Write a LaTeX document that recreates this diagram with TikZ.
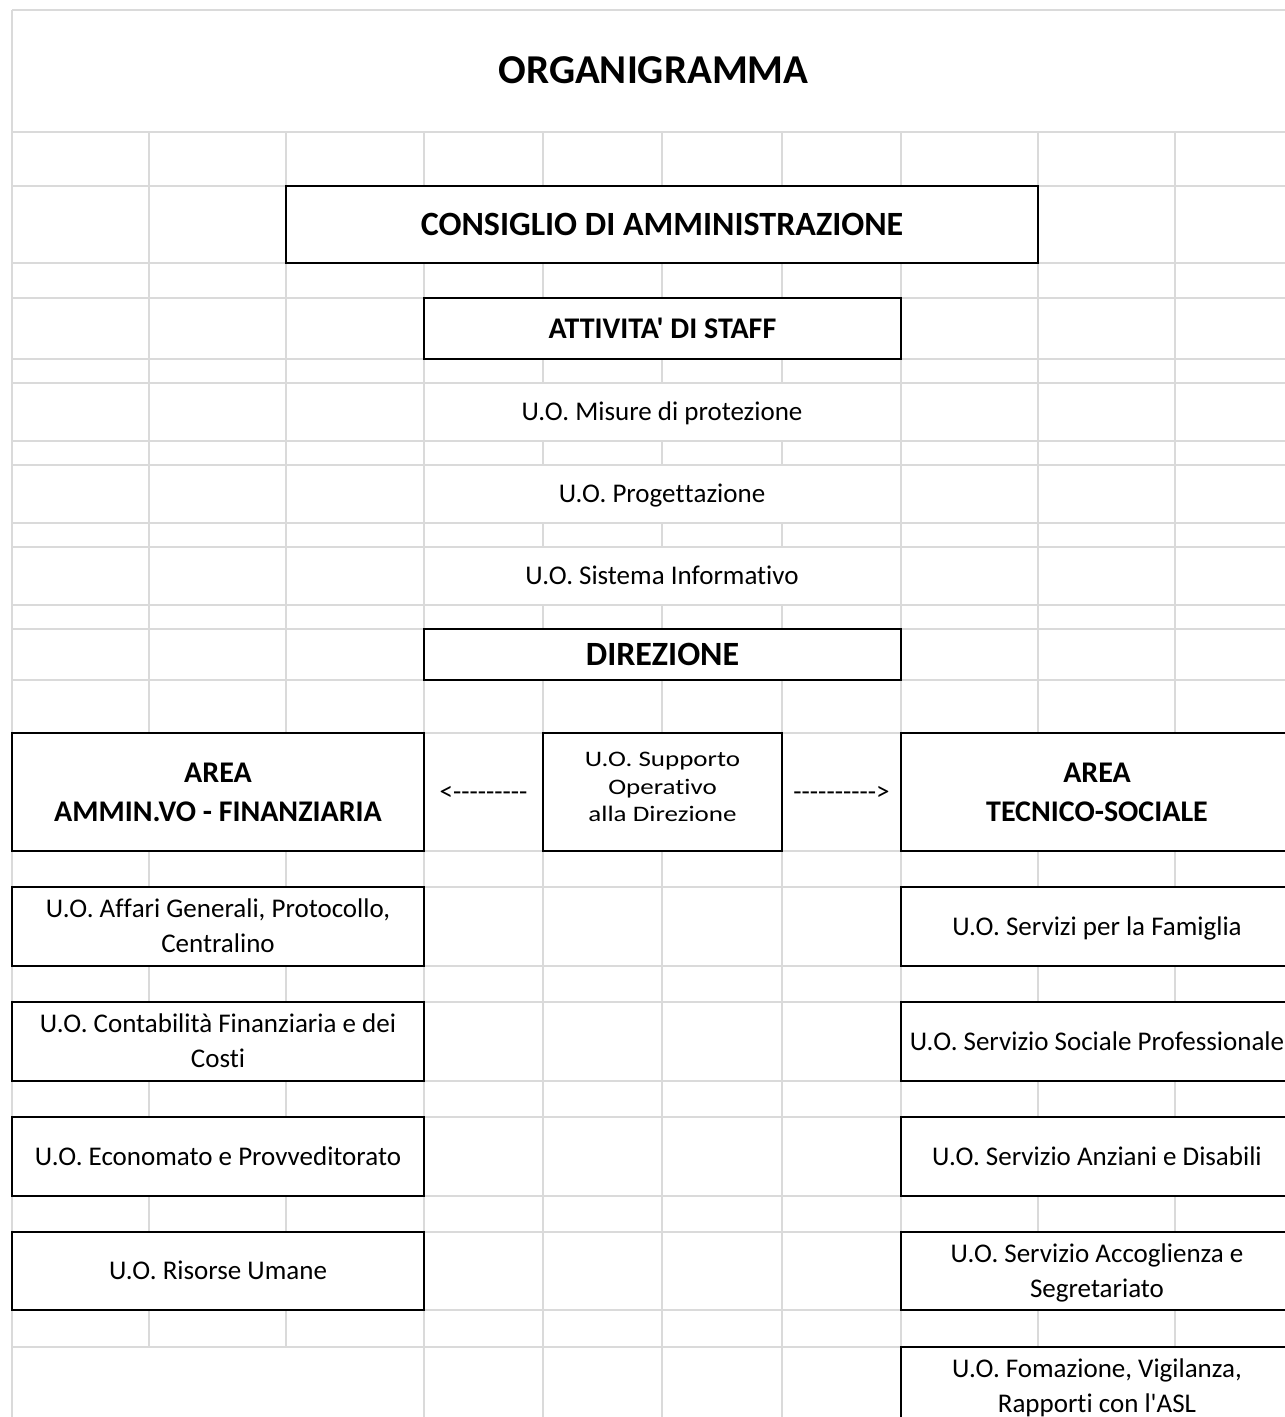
\documentclass[tikz,border=0pt]{standalone}
\usepackage{fontspec}
\setmainfont{Carlito}[Ligatures={TeXOff,CommonOff,ContextualOff}]
\usepackage{graphicx}
\definecolor{gridc}{RGB}{218,218,218}
\tikzset{
  gridline/.style={draw=gridc, line width=1.4pt},
  box/.style={rectangle, draw=black, line width=2pt, fill=white, inner sep=0pt, outer sep=0pt},
  txt/.style={inner sep=0pt, text height=17.1pt, text depth=0pt, font=\fontsize{27}{33}\selectfont},
  btxt/.style={inner sep=0pt, text height=19pt, text depth=0pt, font=\fontsize{30}{36}\selectfont\bfseries},
  bigtxt/.style={inner sep=0pt, text height=21.5pt, text depth=0pt, font=\fontsize{34}{41}\selectfont\bfseries},
  ttl/.style={inner sep=0pt, text height=25.9pt, text depth=0pt, font=\fontsize{41}{49}\selectfont\bfseries},
  suptxt/.style={inner sep=0pt, text height=14pt, text depth=0pt, font=\fontsize{27}{33}\selectfont},
}
\newcommand{\sq}[1]{\scalebox{1}[0.82]{#1}}
\newcommand{\nl}{\kern0pt }
\begin{document}
\begin{tikzpicture}[x=1pt,y=-1pt]
\useasboundingbox (0,0) rectangle (1285,1417);
\clip (0,0) rectangle (1285,1417);
% grid
\foreach \y in {10,132,186,263,298,359,383,441,465,523,547,605,629,680,733,851,887,966,1002,1081,1117,1196,1232,1310,1347}
  \draw[gridline] (12,\y) -- (1300,\y);
\draw[gridline] (12,10) -- (12,1420);
\foreach \x in {149,286} \draw[gridline] (\x,132) -- (\x,1347);
\foreach \x in {424,901,1038,1175} \draw[gridline] (\x,132) -- (\x,1420);
\foreach \x in {543,662,782} {
  \draw[gridline] (\x,132) -- (\x,383);
  \draw[gridline] (\x,441) -- (\x,465);
  \draw[gridline] (\x,523) -- (\x,547);
  \draw[gridline] (\x,605) -- (\x,1420);
}
% title
\node[ttl] (title) at (653.5,71) {ORGANIGRAMMA};
% top boxes
\node[box, bigtxt, minimum width=752pt, minimum height=77pt] (cda) at (662,224.5) {CONSIGLIO DI AMMINISTRAZIONE};
\node[box, btxt, minimum width=477pt, minimum height=61pt] (staff) at (662.5,328.5) {ATTIVITA' DI STAFF};
\node[txt] (misure) at (662,412) {U.O. Misure di protezione};
\node[txt] (prog) at (662,494) {U.O. Proget\nl t\nl azione};
\node[txt] (sist) at (662,576) {U.O. Sistema Informat\nl ivo};
\node[box, bigtxt, minimum width=477pt, minimum height=51pt] (dir) at (662.5,654.5) {DIREZIONE};
% area row
\node[box, minimum width=412pt, minimum height=118pt] (areaA) at (218,792) {};
\node[btxt] (areaA1) at (218,773) {AREA};
\node[btxt] (areaA2) at (218,812) {AMMIN.VO - FINANZIARIA};
\node[txt] (larr) at (483.5,792) {<---------};
\node[box, minimum width=239pt, minimum height=118pt] (supp) at (662.5,792) {};
\node[suptxt] (supp1) at (662.5,759.5) {\sq{U.O. Supporto}};
\node[suptxt] (supp2) at (662.5,787) {\sq{Operat\nl ivo}};
\node[suptxt] (supp3) at (662.5,814) {\sq{alla Direzione}};
\node[txt] (rarr) at (841.5,792) {---------->};
\node[box, minimum width=392pt, minimum height=118pt] (areaT) at (1097,792) {};
\node[btxt] (areaT1) at (1097,773) {AREA};
\node[btxt] (areaT2) at (1097,812) {TECNICO-SOCIALE};
% left column
\node[box, minimum width=412pt, minimum height=79pt] (la1) at (218,926.5) {};
\node[txt] (la1a) at (218,909) {U.O. Af\nl f\nl ari Generali, Protocollo,};
\node[txt] (la1b) at (218,944) {Centralino};
\node[box, minimum width=412pt, minimum height=79pt] (la2) at (218,1041.5) {};
\node[txt] (la2a) at (218,1024) {U.O. Contabilità Finanziaria e dei};
\node[txt] (la2b) at (218,1059) {Cost\nl i};
\node[box, txt, minimum width=412pt, minimum height=79pt] (la3) at (218,1156.5) {U.O. Economato e Provveditorato};
\node[box, txt, minimum width=412pt, minimum height=78pt] (la4) at (218,1271) {U.O. Risorse Umane};
% right column
\node[box, txt, minimum width=392pt, minimum height=79pt] (rb1) at (1097,926.5) {U.O. Servizi per la Famiglia};
\node[box, txt, minimum width=392pt, minimum height=79pt] (rb2) at (1097,1041.5) {U.O. Servizio Sociale Professionale};
\node[box, txt, minimum width=392pt, minimum height=79pt] (rb3) at (1097,1156.5) {U.O. Servizio Anziani e Disabili};
\node[box, minimum width=392pt, minimum height=78pt] (rb4) at (1097,1271) {};
\node[txt] (rb4a) at (1097,1253.5) {U.O. Servizio Accoglienza e};
\node[txt] (rb4b) at (1097,1288.5) {Segretariato};
\node[box, minimum width=392pt, minimum height=79pt] (rb5) at (1097,1386.5) {};
\node[txt] (rb5a) at (1097,1369) {U.O. Fomazione, Vigilanza,};
\node[txt] (rb5b) at (1097,1404) {Rapport\nl i con l'ASL};
\end{tikzpicture}
\end{document}
